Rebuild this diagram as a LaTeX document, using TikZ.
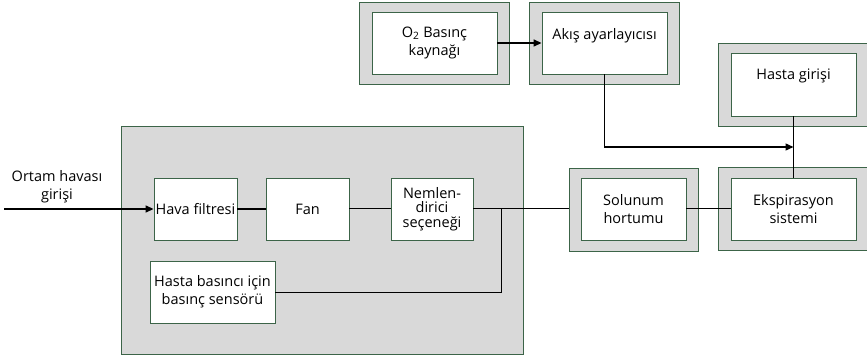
\documentclass[tikz,border=0pt]{standalone}
\usepackage{fontspec}
\setmainfont{Open Sans}
\usetikzlibrary{arrows.meta}
\definecolor{frame}{RGB}{60,100,72}
\definecolor{fillgray}{RGB}{217,217,217}
\begin{document}
\begin{tikzpicture}[x=1pt,y=-1pt,
  txt/.style={font=\fontsize{14.5}{18}\selectfont,align=center,inner sep=0pt},
  ibox/.style={draw=frame,fill=white,line width=0.9pt,minimum width=#1,minimum height=62pt,inner sep=0pt,txt},
  obox/.style 2 args={draw=frame,fill=fillgray,line width=0.9pt,minimum width=#1,minimum height=#2,inner sep=0pt},
  conn/.style={line width=1pt,black},
  arr/.style={line width=1.4pt,black,-{Triangle[length=8pt,width=7pt]}},
  thickconn/.style={line width=2.2pt,black}]
\useasboundingbox (0,0) rectangle (867,358);
\begin{scope}
\clip (0,0) rectangle (867,358);
% outer frames
\node[obox={402pt}{228pt}] (main) at (322,240) {};
\node[obox={129pt}{83pt}] (solo) at (633.5,209.5) {};
\node[obox={162pt}{83pt}] (ekso) at (799,208.5) {};
\node[obox={162pt}{83pt}] (hastao) at (799,84.5) {};
\node[obox={150pt}{82pt}] (o2o) at (434,43) {};
\node[obox={150pt}{82pt}] (akiso) at (604,43) {};
\end{scope}
% inner boxes
\node[ibox=83pt] (hava) at (195.5,209) {Hava filtresi};
\node[ibox=83pt] (fan) at (307.5,209) {Fan};
\node[ibox=82pt,font=\fontsize{14.5}{14.5}\selectfont] (nem) at (432,209) {Nemlen-\\dirici\\seçeneği};
\node[ibox=125pt] (sensor) at (212.5,292) {Hasta basıncı için\\basınç sensörü};
\node[ibox=105pt] (sol) at (633.5,209) {Solunum\\hortumu};
\node[ibox=125pt] (eks) at (793.5,209) {Ekspirasyon\\sistemi};
\node[ibox=125pt,minimum height=63pt] (hasta) at (793.5,84.5) {};
\node[txt] (hastat) at (793.5,76) {Hasta girişi};
\node[ibox=125pt] (o2) at (434.5,43) {O\textsubscript{2} Basınç\\kaynağı};
\node[ibox=125pt] (akis) at (604.5,43) {};
\node[txt] (akist) at (604.5,36) {Akış ayarlayıcısı};
% input
\node[txt] (inlbl) at (57,187) {Ortam havası\\girişi};
\coordinate (in) at (4,209);
\coordinate (jn) at (501,209);
\coordinate (mer) at (793.5,147);
% connectors
\draw[arr] (in) -- (hava.west);
\draw[thickconn] (hava) -- (fan);
\draw[conn] (fan) -- (nem);
\draw[conn] (nem.east) -- (nem.east -| solo.west);
\draw[conn] (sol.east) -- (eks.west);
\draw[conn] (sensor.east) -| (jn);
\draw[arr] (o2.east) -- (akis.west);
\draw[arr] (akis.south) |- (mer);
\draw[conn] (hasta.south) -- (eks.north);
\end{tikzpicture}
\end{document}
